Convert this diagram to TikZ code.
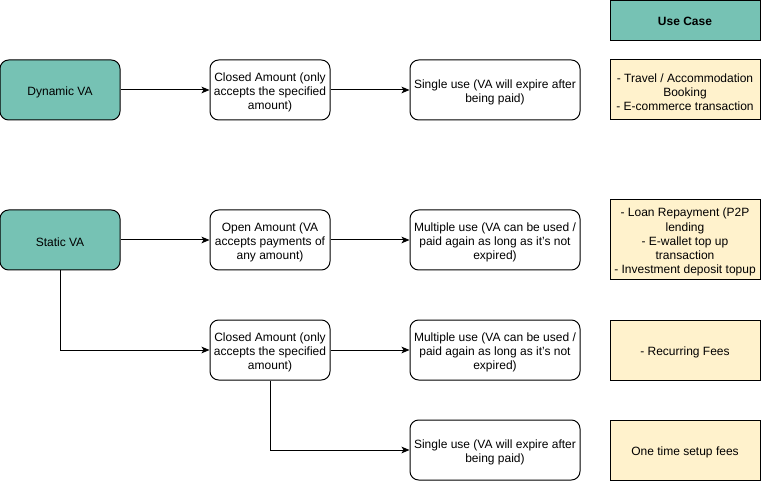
\documentclass[tikz,border=0pt]{standalone}
\usepackage{fontspec}
\setmainfont{Liberation Sans}
\usetikzlibrary{arrows.meta}
\definecolor{teal1}{HTML}{76C2B4}
\definecolor{yel}{HTML}{FFF2CC}
\begin{document}
\begin{tikzpicture}[x=0.75pt,y=-0.75pt,
  txt/.style={inner sep=0pt,align=center,font=\fontsize{9}{10.6}\selectfont,text=black,yshift=-1.6pt},
  base/.style={draw=black,line width=0.75pt,inner sep=0pt},
  rbox/.style={base,rounded corners=6.5pt,fill=white,minimum height=45pt},
  vabox/.style={rbox,fill=teal1,minimum width=90pt},
  midbox/.style={rbox,minimum width=90pt},
  endbox/.style={rbox,minimum width=127.5pt},
  ucbox/.style={base,fill=yel,minimum width=112.5pt,minimum height=45pt},
  conn/.style={line width=0.75pt,-{Stealth[length=6pt,width=5pt,inset=1.5pt]}}]
\useasboundingbox (0,0) rectangle (761,481);
\node[vabox,label={[txt]center:{Dynamic VA}}] (dyn) at (60,90) {};
\node[midbox,label={[txt]center:{Closed Amount (only\\accepts the specified\\amount)}}] (c1) at (270,90) {};
\node[endbox,label={[txt]center:{Single use (VA will expire after\\being paid)}}] (s1) at (495,90) {};
\node[base,fill=teal1,minimum width=112.5pt,minimum height=29.6pt,label={[txt,yshift=0.6pt]center:{\bfseries Use Case}}] (uch) at (685,20.4) {};
\node[ucbox,label={[txt]center:{- Travel / Accommodation\\Booking\\- E-commerce transaction}}] (u1) at (685,90) {};
\node[vabox,label={[txt]center:{Static VA}}] (sta) at (60,240) {};
\node[midbox,label={[txt]center:{Open Amount (VA\\accepts payments of\\any amount)}}] (op) at (270,240) {};
\node[endbox,label={[txt]center:{Multiple use (VA can be used /\\paid again as long as it's not\\expired)}}] (m1) at (495,240) {};
\node[ucbox,minimum height=60pt,label={[txt]center:{- Loan Repayment (P2P\\lending\\- E-wallet top up\\transaction\\- Investment deposit topup}}] (u2) at (685,240) {};
\node[midbox,label={[txt]center:{Closed Amount (only\\accepts the specified\\amount)}}] (c2) at (270,350) {};
\node[endbox,label={[txt]center:{Multiple use (VA can be used /\\paid again as long as it's not\\expired)}}] (m2) at (495,350) {};
\node[ucbox,label={[txt]center:{- Recurring Fees}}] (u3) at (685,350) {};
\node[endbox,label={[txt]center:{Single use (VA will expire after\\being paid)}}] (s2) at (495,450) {};
\node[ucbox,label={[txt]center:{One time setup fees}}] (u4) at (685,450) {};
\draw[conn] (dyn) -- (c1);
\draw[conn] (c1) -- (s1);
\draw[conn] (sta) -- (op);
\draw[conn] (op) -- (m1);
\draw[conn] (sta.south) |- (c2.west);
\draw[conn] (c2) -- (m2);
\draw[conn] (c2.south) |- (s2.west);
\end{tikzpicture}
\end{document}
